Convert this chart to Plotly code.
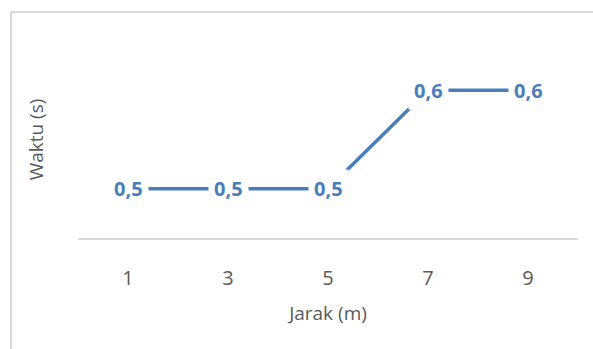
import plotly.graph_objects as go

categories = ["1", "3", "5", "7", "9"]
values = [0.5, 0.5, 0.5, 0.6, 0.6]
labels = ["0,5", "0,5", "0,5", "0,6", "0,6"]

blue = "#4a7ebb"
gray = "#595959"

fig = go.Figure()
fig.add_trace(go.Scatter(x=categories, y=values, mode="lines",
                         line=dict(color=blue, width=3.5), hoverinfo="skip"))

for i, (v, t) in enumerate(zip(values, labels)):
    fig.add_annotation(x=i, y=v, xref="x", yref="y", text="<b>%s</b>" % t,
                       showarrow=False, bgcolor="white", borderpad=5,
                       font=dict(family="Open Sans", size=20, color=blue))

fig.add_shape(type="line", xref="paper", yref="paper", x0=-67/500, x1=515/500,
              y0=1 + 29/197, y1=1 + 29/197, line=dict(color="#d9d9d9", width=2))
fig.add_shape(type="line", xref="paper", yref="paper", x0=-67/500, x1=-67/500,
              y0=1 + 29/197, y1=-111/197 - 0.1, line=dict(color="#d9d9d9", width=2))

fig.update_layout(
    width=593, height=349,
    margin=dict(l=78, r=15, t=41, b=111),
    plot_bgcolor="white", paper_bgcolor="white",
    showlegend=False,
    font=dict(family="Open Sans", color=gray),
    xaxis=dict(type="category", range=[-0.5, 4.5], showline=True,
               linecolor="#d9d9d9", linewidth=2, showgrid=False, ticks="",
               tickfont=dict(size=20, color=gray), ticklabelstandoff=21,
               title=dict(text="Jarak (m)", font=dict(size=19, color=gray), standoff=17)),
    yaxis=dict(range=[0.45, 0.65], showline=False, showgrid=False, zeroline=False,
               showticklabels=False, ticks="",
               title=dict(text="Waktu (s)", font=dict(size=19, color=gray), standoff=28)),
)

fig.write_html("out.html")
